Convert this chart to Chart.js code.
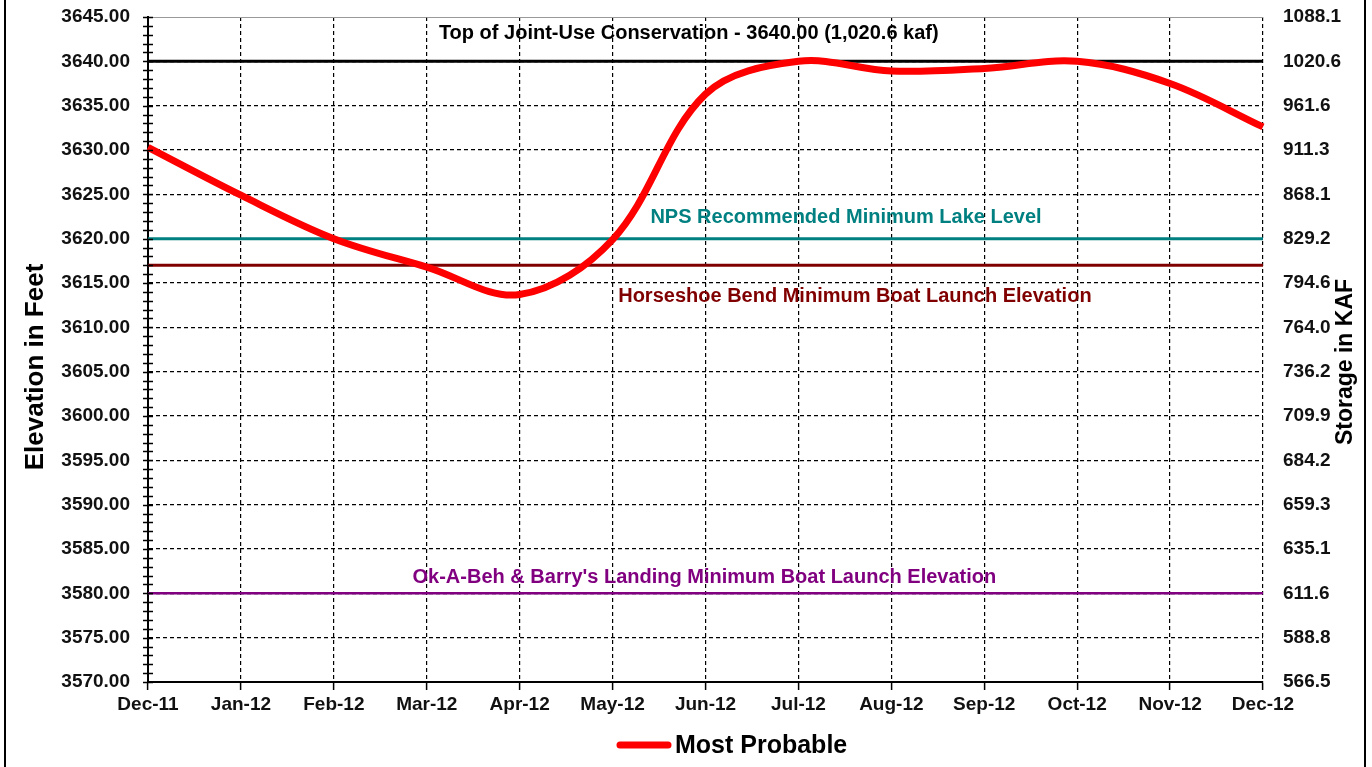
<!DOCTYPE html>
<html>
<head>
<meta charset="utf-8">
<script src="https://cdn.jsdelivr.net/npm/chart.js@4.4.1/dist/chart.umd.min.js"></script>
<style>
  html, body { margin: 0; padding: 0; background: #fff; }
  canvas { display: block; }
</style>
</head>
<body>
<canvas id="lakeChart" width="1372" height="767"></canvas>
<script>
// ================= DATA =================
const months = ["Dec-11", "Jan-12", "Feb-12", "Mar-12", "Apr-12", "May-12", "Jun-12",
                "Jul-12", "Aug-12", "Sep-12", "Oct-12", "Nov-12", "Dec-12"];

const mostProbable = [3630.3, 3624.9, 3620.0, 3616.8, 3613.7, 3619.9, 3636.3,
                      3640.0, 3638.9, 3639.2, 3640.0, 3637.5, 3632.6];

// elevation ticks (ft) and matching storage (kaf) for right axis
const elevationTicks = [3570, 3575, 3580, 3585, 3590, 3595, 3600, 3605,
                        3610, 3615, 3620, 3625, 3630, 3635, 3640, 3645];
const storageLabels = ["566.5", "588.8", "611.6", "635.1", "659.3", "684.2", "709.9", "736.2",
                       "764.0", "794.6", "829.2", "868.1", "911.3", "961.6", "1020.6", "1088.1"];

// reference levels
const refNames = ["Top of Joint-Use Conservation - 3640.00 (1,020.6 kaf)",
                  "NPS Recommended Minimum Lake Level",
                  "Horseshoe Bend Minimum Boat Launch Elevation",
                  "Ok-A-Beh & Barry's Landing Minimum Boat Launch Elevation"];
const refLevels = [3640, 3620, 3617, 3580];
const refColors = ["#000000", "#008080", "#800000", "#800080"];

// ================= HELPERS =================
const FONT = "'Liberation Sans', Arial, sans-serif";
const LEFT = 148, RIGHT = 1263, TOP = 17, BOTTOM = 682;

// where each reference label sits: fraction across plot, px offset from its line
const refLabelPos = [
  { fx: 0.485, dy: -28 },
  { fx: 0.626, dy: -21 },
  { fx: 0.634, dy: 31 },
  { fx: 0.499, dy: -16 }
];

const refDatasets = refLevels.map((lvl, i) => ({
  label: refNames[i],
  data: months.map(() => lvl),
  borderColor: refColors[i],
  borderWidth: i === 3 ? 2.5 : 3,
  pointRadius: 0,
  tension: 0,
  order: 2
}));

// ================= PLUGIN =================
const decorPlugin = {
  id: "decor",
  beforeDraw(chart) {
    const c = chart.ctx;
    c.save();
    c.fillStyle = "#fff";
    c.fillRect(0, 0, chart.width, chart.height);
    // outer frame
    c.strokeStyle = "#000";
    c.lineWidth = 2;
    c.beginPath();
    c.moveTo(5, 0); c.lineTo(5, chart.height);
    c.moveTo(1365, 0); c.lineTo(1365, chart.height);
    c.stroke();
    c.restore();
  },
  afterDraw(chart) {
    const c = chart.ctx;
    const y = chart.scales.y;
    const area = chart.chartArea;
    c.save();

    // top border of plot
    c.strokeStyle = "#999";
    c.lineWidth = 1;
    c.beginPath();
    c.moveTo(area.left, area.top + 0.5);
    c.lineTo(area.right, area.top + 0.5);
    c.stroke();

    // minor ticks every foot across the left axis
    c.strokeStyle = "#000";
    c.lineWidth = 1.5;
    c.beginPath();
    for (let v = y.min; v <= y.max; v += 1) {
      const py = Math.round(y.getPixelForValue(v)) + 0.5;
      c.moveTo(area.left - 5, py);
      c.lineTo(area.left + 5, py);
    }
    c.stroke();

    // reference line labels
    c.font = "bold 20px " + FONT;
    c.textAlign = "center";
    c.textBaseline = "middle";
    refNames.forEach((name, i) => {
      const p = refLabelPos[i];
      c.fillStyle = refColors[i];
      c.fillText(name, area.left + p.fx * (area.right - area.left),
                 y.getPixelForValue(refLevels[i]) + p.dy);
    });

    // axis titles
    c.fillStyle = "#000";
    c.font = "bold 26px " + FONT;
    c.save();
    c.translate(36, 367);
    c.rotate(-Math.PI / 2);
    c.fillText("Elevation in Feet", 0, 0);
    c.restore();
    c.font = "bold 23px " + FONT;
    c.save();
    c.translate(1346, 362);
    c.rotate(-Math.PI / 2);
    c.fillText("Storage in KAF", 0, 0);
    c.restore();

    // legend
    const ds = chart.data.datasets[0];
    c.strokeStyle = ds.borderColor;
    c.lineWidth = 7;
    c.lineCap = "round";
    c.beginPath();
    c.moveTo(620, 745);
    c.lineTo(668, 745);
    c.stroke();
    c.fillStyle = "#000";
    c.font = "bold 25px " + FONT;
    c.textAlign = "left";
    c.fillText(ds.label, 675, 746);

    c.restore();
  }
};

// keep axis label overflow from pushing the plot area
function fixVertical(width) {
  return (s) => {
    s.width = width;
    s.paddingTop = 0;
    s.paddingBottom = 0;
  };
}

// ================= CHART =================
const ctx = document.getElementById("lakeChart").getContext("2d");

const lakeChart = new Chart(ctx, {
  type: "line",
  data: {
    labels: months,
    datasets: [{
      label: "Most Probable",
      data: mostProbable,
      borderColor: "#ff0000",
      backgroundColor: "#ff0000",
      borderWidth: 7,
      pointRadius: 0,
      tension: 0.35,
      order: 1
    }].concat(refDatasets)
  },
  options: {
    responsive: false,
    animation: false,
    layout: { padding: { left: 0, right: 0, top: TOP, bottom: 0 } },
    plugins: {
      legend: { display: false },
      tooltip: { enabled: false }
    },
    scales: {
      x: {
        type: "category",
        offset: false,
        afterFit: (s) => { s.height = 767 - BOTTOM; s.paddingLeft = 0; s.paddingRight = 0; },
        grid: {
          color: "#000",
          lineWidth: 1.2,
          tickLength: 8,
          tickColor: "#000",
          tickBorderDash: [],
          tickWidth: 1.5
        },
        border: { display: true, color: "#000", width: 2, dash: [4, 3] },
        ticks: {
          color: "#111",
          font: { family: FONT, size: 19, weight: "bold" },
          padding: 3,
          maxRotation: 0,
          autoSkip: false
        }
      },
      y: {
        position: "left",
        min: 3570,
        max: 3645,
        afterFit: fixVertical(LEFT),
        afterBuildTicks: (s) => { s.ticks = elevationTicks.map(v => ({ value: v })); },
        grid: {
          color: (c) => (c.tick && (c.tick.value === 3645 || c.tick.value === 3570)) ? "rgba(0,0,0,0)" : "#000",
          lineWidth: 1.2,
          drawTicks: false
        },
        border: { display: true, color: "#000", width: 2, dash: [4, 3] },
        ticks: {
          color: "#111",
          font: { family: FONT, size: 19, weight: "bold" },
          padding: 18,
          callback: (v) => Number(v).toFixed(2)
        }
      },
      y2: {
        position: "right",
        min: 3570,
        max: 3645,
        afterFit: fixVertical(1372 - RIGHT),
        afterBuildTicks: (s) => { s.ticks = elevationTicks.map(v => ({ value: v })); },
        grid: { display: false, drawOnChartArea: false },
        border: { display: false },
        ticks: {
          color: "#111",
          font: { family: FONT, size: 19, weight: "bold" },
          padding: 12,
          callback: (v) => storageLabels[elevationTicks.indexOf(Number(v))]
        }
      }
    }
  },
  plugins: [decorPlugin]
});
</script>
</body>
</html>
